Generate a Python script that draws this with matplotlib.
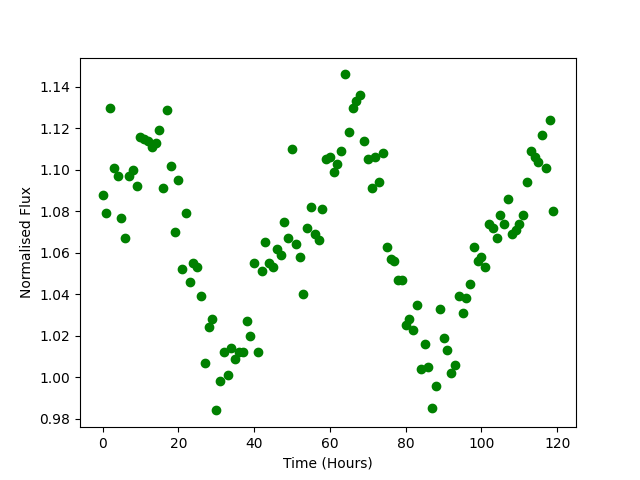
import numpy as np
import matplotlib
matplotlib.use('Agg')
import matplotlib.pyplot as plt

# Hourly samples
hours = np.arange(120)

# Normalised flux
flux = [
    1.088, 1.079, 1.130, 1.101, 1.097, 1.077, 1.067, 1.097, 1.100, 1.092,
    1.116, 1.115, 1.114, 1.111, 1.113, 1.119, 1.091, 1.129, 1.102, 1.070,
    1.095, 1.052, 1.079, 1.046, 1.055, 1.053, 1.039, 1.007, 1.024, 1.028,
    0.984, 0.998, 1.012, 1.001, 1.014, 1.009, 1.012, 1.012, 1.027, 1.020,
    1.055, 1.012, 1.051, 1.065, 1.055, 1.053, 1.062, 1.059, 1.075, 1.067,
    1.110, 1.064, 1.058, 1.040, 1.072, 1.082, 1.069, 1.066, 1.081, 1.105,
    1.106, 1.099, 1.103, 1.109, 1.146, 1.118, 1.130, 1.133, 1.136, 1.114,
    1.105, 1.091, 1.106, 1.094, 1.108, 1.063, 1.057, 1.056, 1.047, 1.047,
    1.025, 1.028, 1.023, 1.035, 1.004, 1.016, 1.005, 0.985, 0.996, 1.033,
    1.019, 1.013, 1.002, 1.006, 1.039, 1.031, 1.038, 1.045, 1.063, 1.056,
    1.058, 1.053, 1.074, 1.072, 1.067, 1.078, 1.074, 1.086, 1.069, 1.071,
    1.074, 1.078, 1.094, 1.109, 1.106, 1.104, 1.117, 1.101, 1.124, 1.080,
]

fig, ax = plt.subplots(figsize=(6.4, 4.8), dpi=100)
ax.plot(hours, flux, 'o', color='green')
ax.set_xlabel('Time (Hours)')
ax.set_ylabel('Normalised Flux')

fig.savefig('out.png')
